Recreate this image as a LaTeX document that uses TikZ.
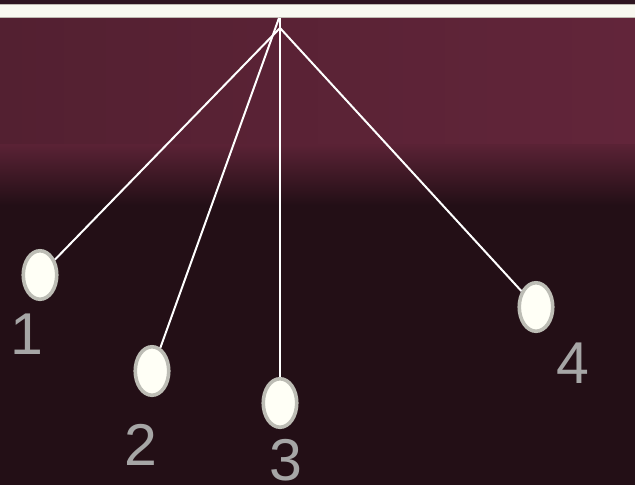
\documentclass[tikz,border=0pt]{standalone}
\usepackage{fontspec}
\setmainfont{Liberation Sans}
\usetikzlibrary{shapes.geometric}
\definecolor{bgdark}{HTML}{230F16}
\definecolor{maroonL}{HTML}{532031}
\definecolor{maroonR}{HTML}{62253A}
\definecolor{maroonM}{HTML}{5A2235}
\definecolor{topstrip}{HTML}{2E1520}
\definecolor{barfill}{HTML}{F8F8F0}
\definecolor{barline}{HTML}{BDB8B0}
\definecolor{bobfill}{HTML}{FFFFF6}
\definecolor{bobline}{HTML}{BDBDB5}
\definecolor{labelgray}{HTML}{A6A6A6}
\tikzset{
  bob/.style={ellipse, draw=bobline, fill=bobfill, line width=3.6pt, inner sep=0pt,
    minimum width=33.5pt, minimum height=48.5pt},
  numlabel/.style={text=labelgray, font=\fontsize{59}{59}\selectfont, inner sep=0pt},
  string/.style={draw=white, line width=2pt}
}
\begin{document}
\begin{tikzpicture}[x=1pt,y=-1pt]
\useasboundingbox (0,0) rectangle (635,485);
% background
\fill[bgdark] (0,0) rectangle (635,485);
\shade[left color=maroonL, right color=maroonR] (0,17) rectangle (635,145);
\shade[top color=maroonM, bottom color=bgdark] (0,144.5) rectangle (635,205);
\fill[topstrip] (0,0) rectangle (635,4.5);
% top bar
\draw[fill=barfill, draw=barline, line width=0.6pt] (-1,4.5) rectangle (636,17.5);
% pivots
\coordinate (p) at (280,28);
\coordinate (q) at (279,18);
\coordinate (r) at (280,18);
% bobs
\node[bob] (e1) at (40,275) {};
\node[bob] (e2) at (152,371) {};
\node[bob] (e3) at (280,403) {};
\node[bob] (e4) at (536,307) {};
% strings
\draw[string] (p) -- (e1);
\draw[string] (q) -- (e2);
\draw[string] (r) -- (e3);
\draw[string] (p) -- (e4);
% labels
\node[numlabel] (l1) at (27,334) {1};
\node[numlabel] (l2) at (140.5,445) {2};
\node[numlabel] (l3) at (285.5,460) {3};
\node[numlabel] (l4) at (573,363) {4};
\end{tikzpicture}
\end{document}
